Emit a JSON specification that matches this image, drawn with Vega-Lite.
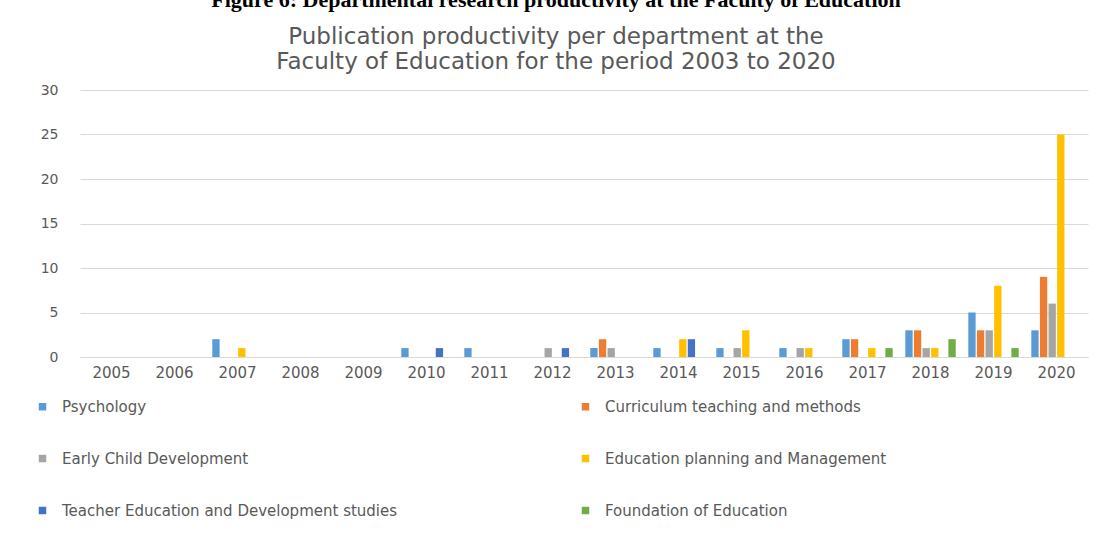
{
  "$schema": "https://vega.github.io/schema/vega-lite/v6.json",
  "autosize": {"type": "none"},
  "width": 1008,
  "height": 267,
  "padding": {"left": 80, "top": 90, "right": 25, "bottom": 187},
  "background": "white",
  "title": {
    "text": "Figure 6: Departmental research productivity at the Faculty of Education",
    "subtitle": ["Publication productivity per department at the", "Faculty of Education for the period 2003 to 2020"],
    "anchor": "middle",
    "frame": "group",
    "dx": -28,
    "offset": 8,
    "font": "Liberation Serif",
    "fontSize": 22,
    "fontWeight": "bold",
    "color": "black",
    "subtitleFont": "DejaVu Sans",
    "subtitleFontSize": 23,
    "subtitleColor": "#595959",
    "subtitleLineHeight": 25,
    "subtitlePadding": 14
  },
  "data": {
    "values": [
      {"year": "2007", "dept": "Psychology", "count": 2},
      {"year": "2007", "dept": "Education planning and Management", "count": 1},
      {"year": "2010", "dept": "Psychology", "count": 1},
      {"year": "2010", "dept": "Teacher Education and Development studies", "count": 1},
      {"year": "2011", "dept": "Psychology", "count": 1},
      {"year": "2012", "dept": "Early Child Development", "count": 1},
      {"year": "2012", "dept": "Teacher Education and Development studies", "count": 1},
      {"year": "2013", "dept": "Psychology", "count": 1},
      {"year": "2013", "dept": "Curriculum teaching and methods", "count": 2},
      {"year": "2013", "dept": "Early Child Development", "count": 1},
      {"year": "2014", "dept": "Psychology", "count": 1},
      {"year": "2014", "dept": "Education planning and Management", "count": 2},
      {"year": "2014", "dept": "Teacher Education and Development studies", "count": 2},
      {"year": "2015", "dept": "Psychology", "count": 1},
      {"year": "2015", "dept": "Early Child Development", "count": 1},
      {"year": "2015", "dept": "Education planning and Management", "count": 3},
      {"year": "2016", "dept": "Psychology", "count": 1},
      {"year": "2016", "dept": "Early Child Development", "count": 1},
      {"year": "2016", "dept": "Education planning and Management", "count": 1},
      {"year": "2017", "dept": "Psychology", "count": 2},
      {"year": "2017", "dept": "Curriculum teaching and methods", "count": 2},
      {"year": "2017", "dept": "Education planning and Management", "count": 1},
      {"year": "2017", "dept": "Foundation of Education", "count": 1},
      {"year": "2018", "dept": "Psychology", "count": 3},
      {"year": "2018", "dept": "Curriculum teaching and methods", "count": 3},
      {"year": "2018", "dept": "Early Child Development", "count": 1},
      {"year": "2018", "dept": "Education planning and Management", "count": 1},
      {"year": "2018", "dept": "Foundation of Education", "count": 2},
      {"year": "2019", "dept": "Psychology", "count": 5},
      {"year": "2019", "dept": "Curriculum teaching and methods", "count": 3},
      {"year": "2019", "dept": "Early Child Development", "count": 3},
      {"year": "2019", "dept": "Education planning and Management", "count": 8},
      {"year": "2019", "dept": "Foundation of Education", "count": 1},
      {"year": "2020", "dept": "Psychology", "count": 3},
      {"year": "2020", "dept": "Curriculum teaching and methods", "count": 9},
      {"year": "2020", "dept": "Early Child Development", "count": 6},
      {"year": "2020", "dept": "Education planning and Management", "count": 25}
    ]
  },
  "mark": {"type": "bar"},
  "encoding": {
    "x": {
      "field": "year",
      "type": "nominal",
      "scale": {
        "domain": ["2005","2006","2007","2008","2009","2010","2011","2012","2013","2014","2015","2016","2017","2018","2019","2020"],
        "paddingInner": 0.2,
        "paddingOuter": 0.1
      },
      "axis": {
        "title": null,
        "labelAngle": 0,
        "ticks": false,
        "domain": true,
        "domainColor": "#d9d9d9",
        "domainWidth": 1,
        "labelPadding": 8,
        "labelFont": "DejaVu Sans",
        "labelFontSize": 15,
        "labelColor": "#595959"
      }
    },
    "xOffset": {
      "field": "dept",
      "type": "nominal",
      "scale": {
        "domain": ["Psychology", "Curriculum teaching and methods", "Early Child Development", "Education planning and Management", "Teacher Education and Development studies", "Foundation of Education"],
        "paddingInner": 0.15
      }
    },
    "y": {
      "field": "count",
      "type": "quantitative",
      "scale": {"domain": [0, 30]},
      "axis": {
        "title": null,
        "values": [0, 5, 10, 15, 20, 25, 30],
        "domain": false,
        "ticks": false,
        "grid": true,
        "gridColor": "#d9d9d9",
        "gridWidth": 1,
        "labelPadding": 22,
        "labelFont": "DejaVu Sans",
        "labelFontSize": 14,
        "labelColor": "#595959"
      }
    },
    "color": {
      "field": "dept",
      "type": "nominal",
      "scale": {
        "domain": ["Psychology", "Curriculum teaching and methods", "Early Child Development", "Education planning and Management", "Teacher Education and Development studies", "Foundation of Education"],
        "range": ["#5B9BD5", "#ED7D31", "#A5A5A5", "#FFC000", "#4472C4", "#70AD47"]
      },
      "legend": {
        "title": null,
        "orient": "none",
        "direction": "horizontal",
        "legendX": -45,
        "legendY": 309,
        "columns": 2,
        "columnPadding": 180,
        "rowPadding": 36,
        "symbolType": "square",
        "symbolSize": 56,
        "symbolStrokeWidth": 0,
        "labelOffset": 12,
        "labelLimit": 700,
        "labelFont": "DejaVu Sans",
        "labelFontSize": 15,
        "labelColor": "#595959"
      }
    }
  },
  "config": {
    "view": {"stroke": null}
  }
}
